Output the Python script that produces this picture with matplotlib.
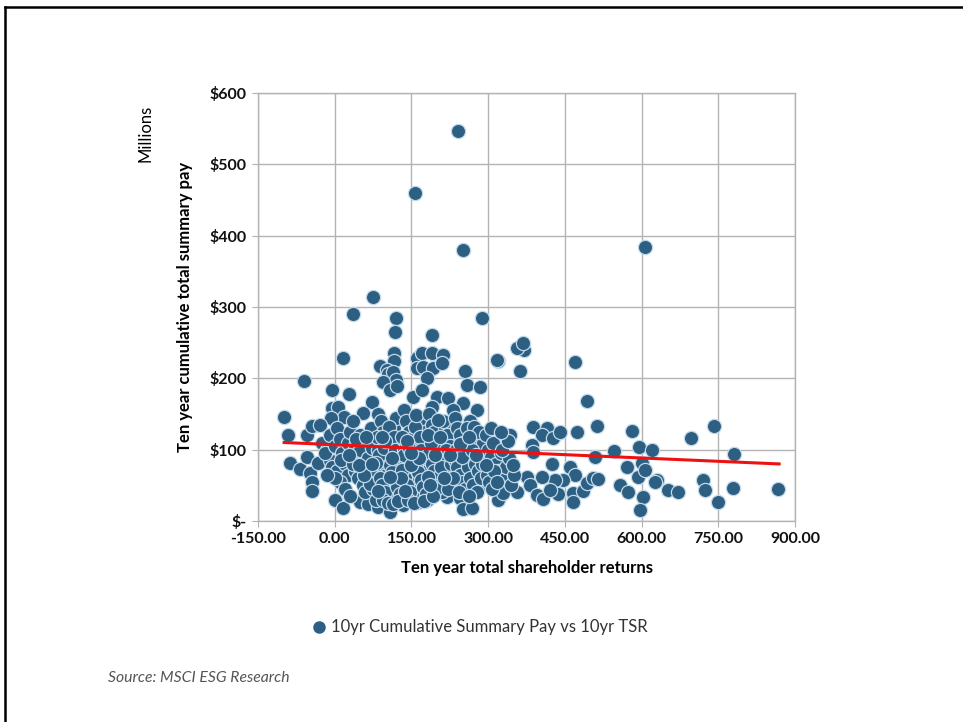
import numpy as np
import matplotlib.pyplot as plt
from matplotlib.ticker import FuncFormatter
from matplotlib.lines import Line2D

plt.rcParams['font.family'] = ['Lato', 'DejaVu Sans']

# (TSR %, pay $M)
points = [
    # upper / outliers
    (241, 547), (157, 460), (251, 380), (607, 384), (75, 314), (120, 285), (36, 290), (288, 285),
    (190, 261), (118, 265), (16, 228), (-60, 196), (470, 223), (319, 224), (370, 240), (356, 242),
    (362, 210), (493, 168), (116, 236), (116, 224), (88, 217), (102, 212), (104, 206), (114, 209),
    (120, 198), (161, 228), (171, 236), (190, 236), (212, 233), (161, 214), (173, 216), (192, 214),
    (210, 222), (180, 200), (255, 210), (317, 226), (368, 250), (-5, 184), (28, 178), (94, 195),
    (108, 184), (122, 189), (259, 191), (284, 188), (153, 174), (171, 184), (200, 174), (221, 172),
    (190, 160), (251, 165), (278, 156), (231, 156), (73, 167), (55, 151), (-5, 158), (6, 160),
    (18, 146), (-7, 144), (-99, 146), (-91, 121), (-54, 121), (-44, 133), (-29, 135), (-87, 81),
    (-68, 73), (-48, 67), (-44, 55), (-44, 42), (-54, 90), (-33, 81), (-9, 86),
    # bottom edge
    (0, 29), (16, 18), (49, 27), (65, 24), (85, 20), (108, 13), (134, 22), (163, 27), (180, 29),
    (219, 34), (245, 32), (251, 17), (268, 18), (284, 48), (319, 29), (329, 39), (356, 41),
    # right side
    (388, 132), (415, 130), (405, 121), (427, 116), (440, 125), (474, 125), (513, 133), (386, 107),
    (388, 97), (509, 90), (546, 98), (581, 126), (595, 104), (620, 100), (697, 116), (742, 133),
    (781, 94), (425, 80), (460, 76), (470, 64), (446, 57), (431, 57), (405, 62), (376, 62),
    (382, 50), (395, 36), (407, 31), (437, 38), (421, 43), (466, 39), (466, 27), (485, 42),
    (493, 53), (505, 60), (515, 59), (558, 50), (571, 76), (573, 41), (593, 62), (601, 81),
    (607, 72), (603, 34), (597, 15), (630, 57), (626, 55), (652, 43), (671, 41), (720, 57),
    (724, 43), (749, 27), (779, 46), (867, 45), (343, 121),
    # dense cloud
    (-25, 110), (-15, 100), (-20, 95), (-10, 120), (0, 105), (5, 130), (10, 115), (15, 95),
    (-5, 75), (5, 70), (20, 80), (25, 65), (10, 55), (0, 60), (20, 45), (30, 35), (25, 110),
    (30, 125), (12, 85), (-15, 65),
    (35, 140), (40, 105), (45, 95), (50, 120), (55, 85), (60, 75), (65, 110), (70, 130), (75, 95),
    (40, 70), (45, 60), (55, 50), (60, 40), (70, 60), (75, 45), (80, 30), (35, 80), (50, 100),
    (65, 88), (78, 72), (42, 115), (68, 52), (58, 65), (72, 102),
    (85, 150), (90, 140), (95, 125), (100, 115), (105, 105), (110, 95), (115, 130), (120, 145),
    (125, 110), (85, 100), (90, 85), (95, 75), (100, 65), (105, 55), (110, 45), (115, 35),
    (120, 80), (125, 70), (88, 60), (92, 50), (98, 40), (102, 88), (108, 78), (112, 68),
    (118, 58), (122, 48), (128, 38), (82, 118), (86, 92), (96, 102), (106, 132), (116, 118),
    (126, 98), (94, 30), (104, 25), (114, 24), (124, 28), (84, 42), (128, 88), (118, 100),
    (135, 155), (140, 140), (145, 125), (150, 115), (155, 105), (160, 95), (165, 130), (170, 145),
    (175, 110), (135, 100), (140, 85), (145, 75), (150, 65), (155, 55), (160, 45), (165, 35),
    (170, 80), (175, 70), (138, 60), (142, 50), (148, 40), (152, 88), (158, 78), (162, 68),
    (168, 58), (172, 48), (178, 38), (132, 118), (136, 92), (146, 102), (156, 132), (166, 118),
    (176, 98), (144, 30), (154, 25), (174, 28), (178, 88), (168, 100), (132, 72), (158, 148),
    (185, 150), (190, 135), (195, 125), (200, 115), (205, 100), (210, 90), (215, 130), (220, 120),
    (225, 105), (185, 95), (190, 80), (195, 70), (200, 60), (205, 50), (210, 40), (215, 85),
    (220, 65), (225, 55), (188, 110), (198, 45), (208, 75), (218, 100), (228, 80), (182, 62),
    (192, 35), (212, 140), (222, 45), (202, 142),
    (235, 145), (240, 130), (245, 120), (250, 110), (255, 100), (260, 90), (265, 140), (270, 125),
    (275, 115), (280, 105), (285, 95), (235, 85), (240, 75), (245, 65), (250, 55), (255, 45),
    (260, 75), (265, 60), (270, 50), (275, 80), (280, 70), (285, 60), (290, 110), (238, 100),
    (248, 90), (258, 130), (268, 100), (278, 40), (288, 80), (232, 60), (242, 40), (262, 35),
    (272, 132), (282, 125),
    (295, 120), (300, 100), (305, 90), (310, 110), (315, 80), (320, 70), (325, 95), (330, 60),
    (335, 75), (340, 88), (345, 50), (350, 65), (298, 65), (302, 55), (308, 45), (312, 70),
    (318, 55), (328, 100), (338, 112), (348, 78), (295, 78), (305, 130), (325, 125),
    # extra fill in the core of the cloud
    (62, 118), (80, 82), (98, 112), (112, 88), (130, 60), (142, 112), (150, 78), (164, 88),
    (182, 120), (196, 92), (206, 118), (226, 92), (244, 108), (262, 118), (276, 92), (108, 62),
    (138, 42), (186, 50), (214, 60), (48, 78), (28, 92), (72, 80), (92, 118), (150, 95),
]
tsr = [p[0] for p in points]
pay = [p[1] for p in points]

trend_x = [-99, 869]
trend_y = [110, 80]

x_ticks = [-150, 0, 150, 300, 450, 600, 750, 900]
y_ticks = [0, 100, 200, 300, 400, 500, 600]

dot_color = '#2d5f82'
edge_color = '#c2d9ea'
grid_color = '#b3b3b3'

fig = plt.figure(figsize=(9.63, 7.22), dpi=100)
ax = fig.add_axes([0.268, 0.2784, 0.5575, 0.5928])

ax.scatter(tsr, pay, s=105, color=dot_color, edgecolors=edge_color, linewidths=0.9, zorder=3)
ax.plot(trend_x, trend_y, color='#ee1111', lw=2.2, zorder=4)

ax.set_xlim(-150, 900)
ax.set_ylim(0, 600)
ax.set_xticks(x_ticks)
ax.set_yticks(y_ticks)
ax.xaxis.set_major_formatter(FuncFormatter(lambda v, p: f'{v:.2f}'))
ax.yaxis.set_major_formatter(FuncFormatter(lambda v, p: '$-' if v == 0 else f'${v:.0f}'))
ax.grid(True, color=grid_color, lw=1.0, zorder=0)
ax.set_axisbelow(True)
for s in ax.spines.values():
    s.set_color(grid_color)
    s.set_linewidth(1.0)
ax.tick_params(axis='both', length=4, color=grid_color, labelsize=11.5, pad=4)
for lab in ax.get_xticklabels() + ax.get_yticklabels():
    lab.set_fontweight('bold')
    lab.set_color('#111111')

ax.set_xlabel('Ten year total shareholder returns', fontsize=12, fontweight='bold', labelpad=10)
ax.set_ylabel('Ten year cumulative total summary pay', fontsize=12, fontweight='bold', labelpad=12)
fig.text(0.151, 0.815, 'Millions', rotation=90, fontsize=12, ha='center', va='center')

handle = Line2D([], [], ls='none', marker='o', ms=8, color=dot_color, markeredgecolor=dot_color)
fig.legend([handle], ['10yr Cumulative Summary Pay vs 10yr TSR'], loc='center',
           bbox_to_anchor=(0.497, 0.131), frameon=False, fontsize=12, handletextpad=0.1,
           handlelength=1.2, labelcolor='#333333')

fig.text(0.112, 0.061, 'Source: MSCI ESG Research', fontsize=11.3, style='italic',
         color='#555555', ha='left', va='center')

# outer frame (left and top edges)
fig.add_artist(Line2D([0.0055, 0.0055], [0.0, 0.9905], transform=fig.transFigure, color='black', lw=1.8))
fig.add_artist(Line2D([0.0055, 1.0], [0.9905, 0.9905], transform=fig.transFigure, color='black', lw=1.8))

fig.savefig('out.png', dpi=100)
